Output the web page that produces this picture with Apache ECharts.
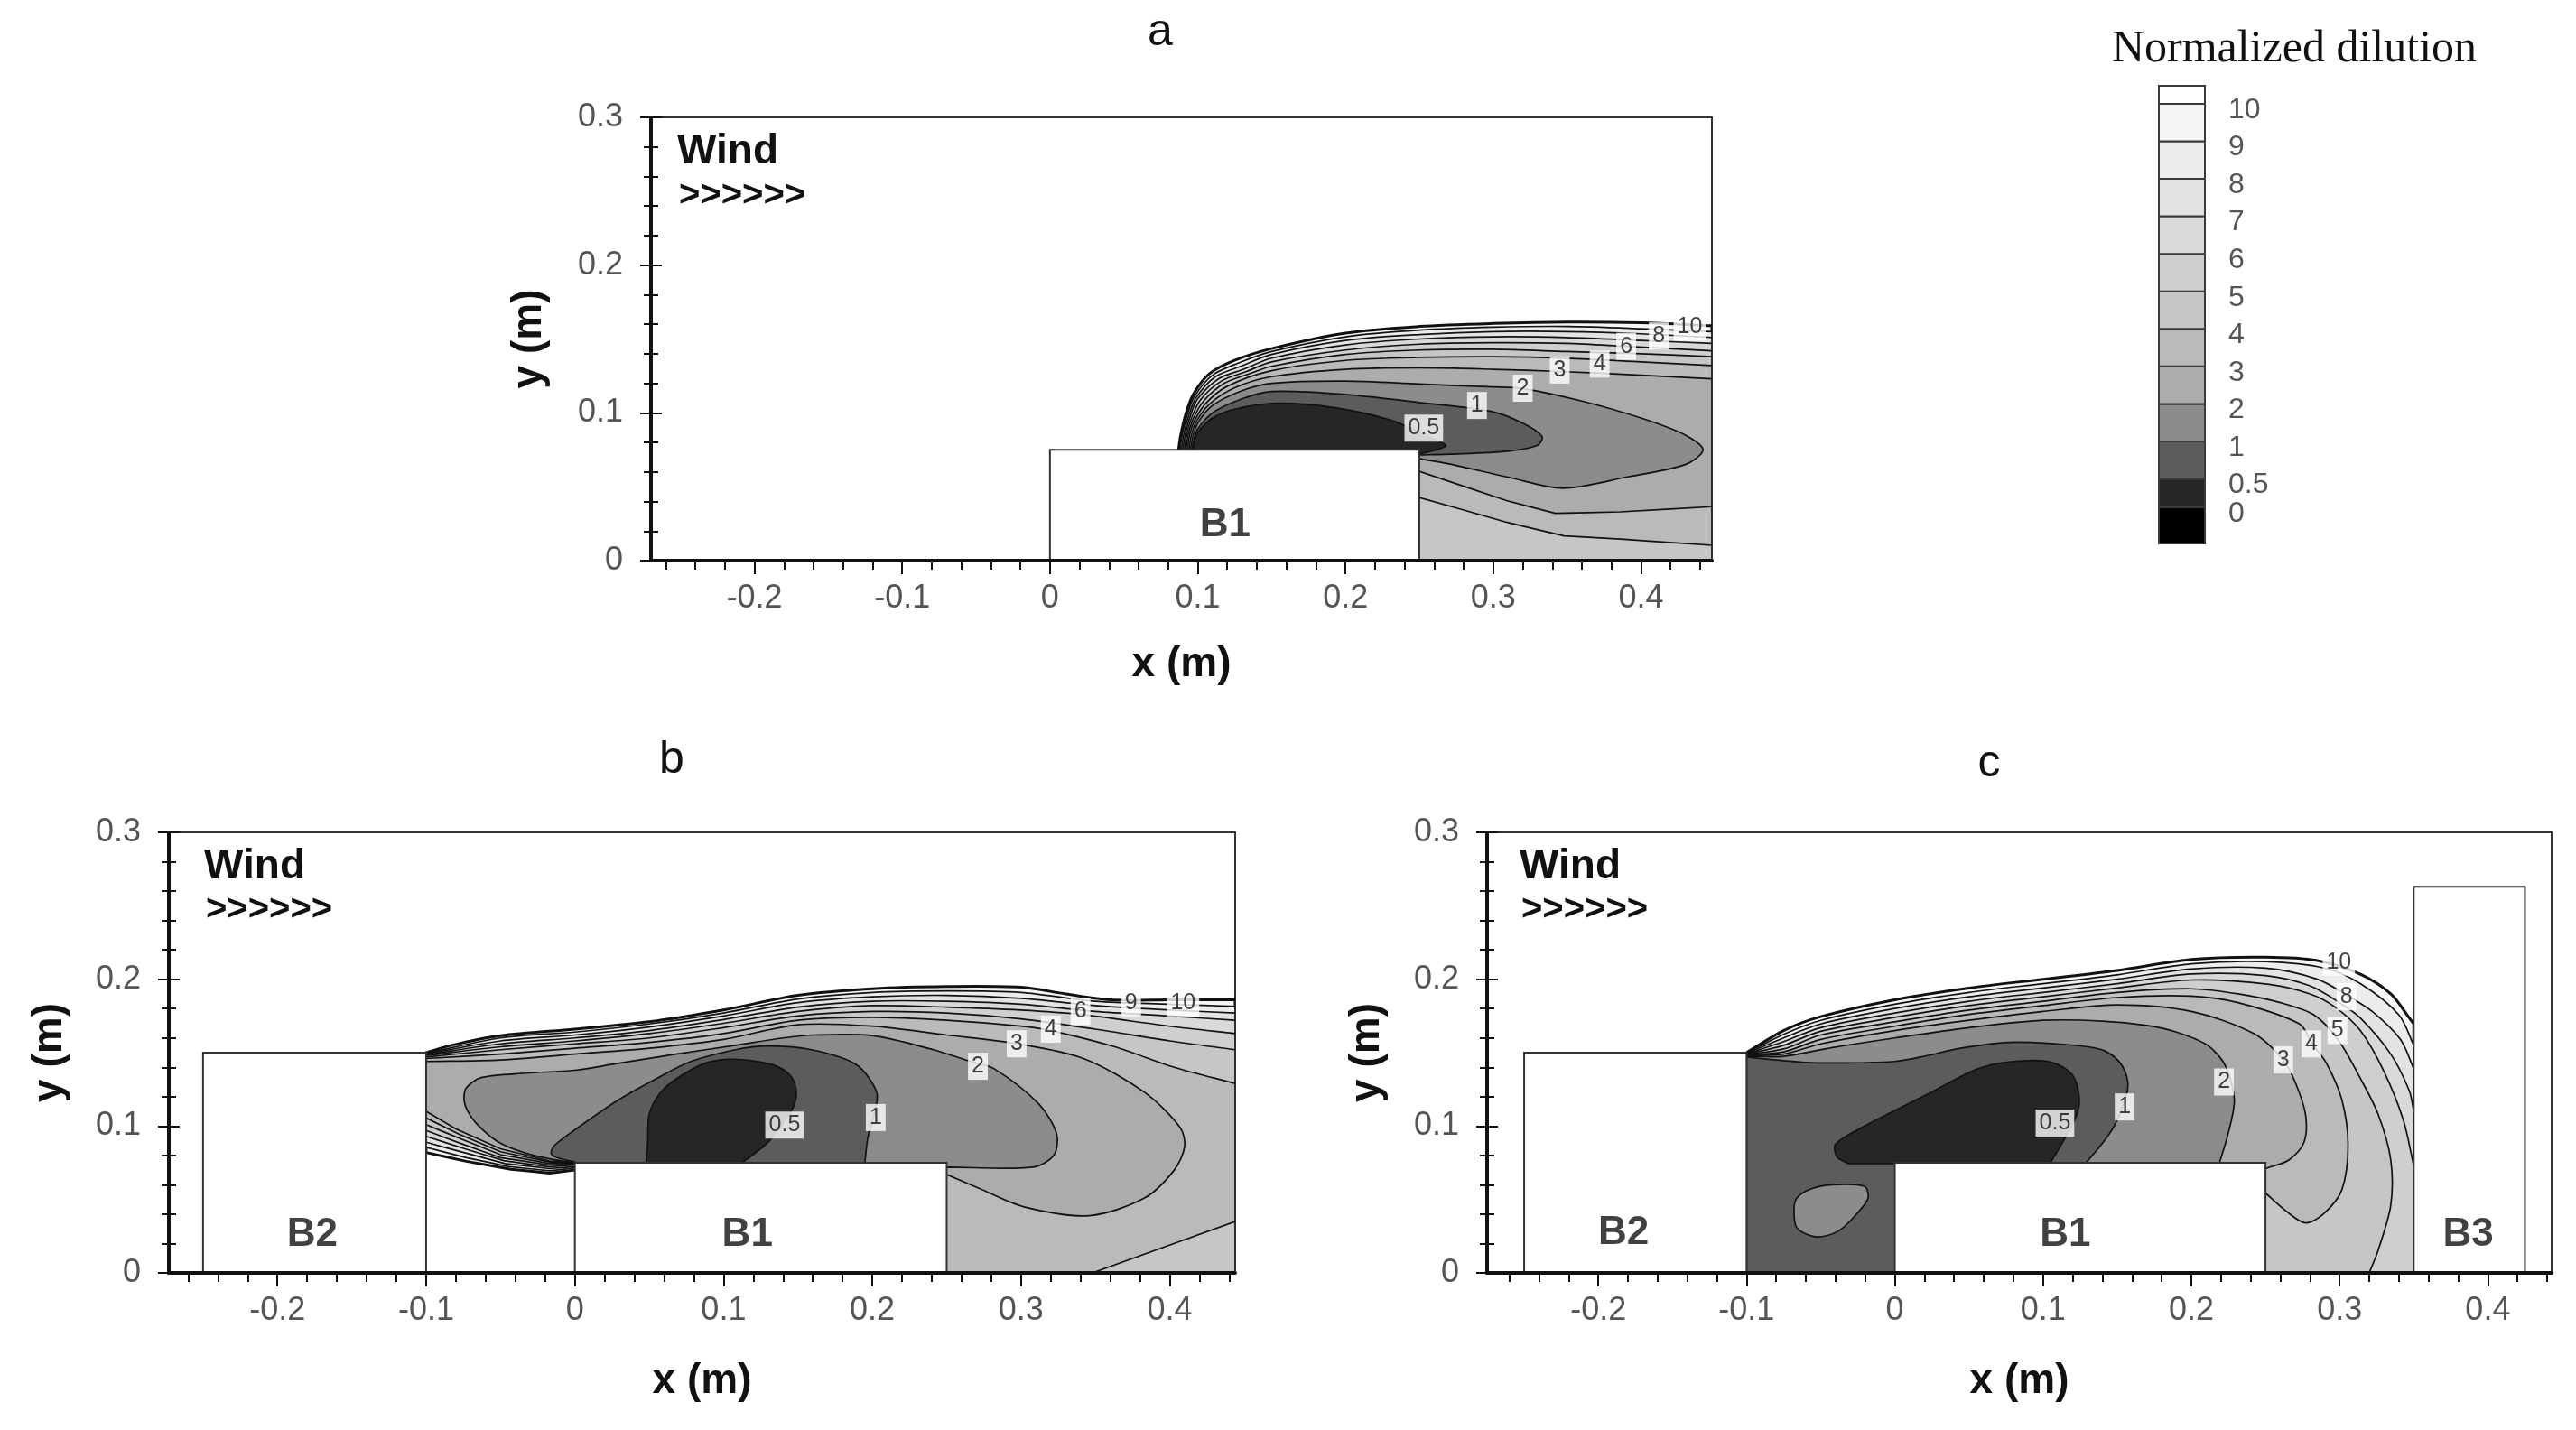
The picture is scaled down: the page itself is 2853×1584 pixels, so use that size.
<!DOCTYPE html>
<html lang="en">
<head>
<meta charset="UTF-8">
<title>Normalized dilution contours</title>
<script src="https://cdn.jsdelivr.net/npm/echarts@6/dist/echarts.min.js"></script>
<style>
    html, body, #main {
        height: 100%;
        padding: 0;
        margin: 0;
        background: #fff;
    }
</style>
</head>
<body>
<div id="main"></div>
<script>
    // contour levels and the grey of the band just below each level
    var levels = [0, 0.5, 1, 2, 3, 4, 5, 6, 7, 8, 9, 10];
    var bandColors = ['#000000', '#262626', '#5c5c5c', '#8c8c8c', '#acacac', '#bababa',
        '#c6c6c6', '#cfcfcf', '#d9d9d9', '#e3e3e3', '#ececec', '#f5f5f5', '#ffffff'];
    // where each level boundary sits on the colour bar
    var legendTicks = [0.24, 1, 2, 3, 4, 5, 6, 7, 8, 9, 10, 11];

    var xMajor = [-0.2, -0.1, 0, 0.1, 0.2, 0.3, 0.4];

    // [level, contour line (x, y in m), closing path along walls / ground]
    var contoursA = [
        [10, [[0.087,0.075],[0.0885,0.085],[0.092,0.0995],[0.097,0.1125],[0.108,0.1265],[0.125,0.1355],[0.15,0.1435],[0.2,0.154],[0.25,0.1585],[0.3,0.1605],[0.35,0.1615],[0.4,0.161],[0.448,0.159]], [[0.448,0],[0.1,0]]],
        [9, [[0.088,0.075],[0.0895,0.085],[0.093,0.099],[0.098,0.1115],[0.11,0.1255],[0.127,0.1335],[0.15,0.1415],[0.2,0.1515],[0.25,0.156],[0.3,0.158],[0.35,0.1585],[0.4,0.157],[0.448,0.155]], [[0.448,0],[0.1,0]]],
        [8, [[0.089,0.075],[0.0905,0.085],[0.094,0.0985],[0.099,0.1105],[0.112,0.1245],[0.129,0.1315],[0.15,0.1395],[0.2,0.149],[0.25,0.153],[0.3,0.155],[0.35,0.155],[0.4,0.1535],[0.448,0.151]], [[0.448,0],[0.1,0]]],
        [7, [[0.09,0.075],[0.0915,0.085],[0.095,0.098],[0.1,0.1095],[0.114,0.123],[0.131,0.1295],[0.15,0.137],[0.2,0.146],[0.25,0.15],[0.3,0.1515],[0.35,0.151],[0.4,0.149],[0.448,0.147]], [[0.448,0],[0.1,0]]],
        [6, [[0.091,0.075],[0.0925,0.085],[0.096,0.097],[0.102,0.109],[0.116,0.1215],[0.133,0.128],[0.15,0.1345],[0.2,0.1425],[0.25,0.1465],[0.3,0.1475],[0.35,0.147],[0.39,0.145],[0.448,0.142]], [[0.448,0],[0.1,0]]],
        [5, [[0.092,0.075],[0.0935,0.085],[0.097,0.096],[0.104,0.108],[0.118,0.12],[0.135,0.1265],[0.15,0.1315],[0.2,0.1395],[0.25,0.1425],[0.3,0.143],[0.35,0.1415],[0.4,0.14],[0.448,0.138]], [[0.448,0],[0.1,0]]],
        [4, [[0.093,0.075],[0.0945,0.085],[0.098,0.095],[0.106,0.107],[0.12,0.118],[0.15,0.1285],[0.2,0.1355],[0.25,0.1375],[0.3,0.138],[0.35,0.137],[0.4,0.1345],[0.448,0.132]],
            [[0.448,0.0104],[0.386,0.0146],[0.348,0.0167],[0.309,0.026],[0.25,0.0427],[0.15,0.02]]],
        [3, [[0.094,0.075],[0.0955,0.084],[0.099,0.094],[0.108,0.106],[0.125,0.117],[0.15,0.1245],[0.2,0.1295],[0.25,0.1305],[0.3,0.1295],[0.345,0.128],[0.4,0.1255],[0.448,0.123]],
            [[0.448,0.0365],[0.386,0.033],[0.342,0.032],[0.309,0.0406],[0.25,0.0604],[0.15,0.03]]],
        [2, [[0.095,0.075],[0.0965,0.083],[0.1,0.093],[0.11,0.105],[0.13,0.115],[0.15,0.12],[0.2,0.1215],[0.25,0.1195],[0.3,0.1175],[0.32,0.1165],[0.36,0.108],[0.4,0.0965],[0.43,0.085],[0.442,0.075],[0.43,0.065],[0.39,0.0565],[0.347,0.049],[0.31,0.0565],[0.27,0.0655],[0.25,0.069]], [[0.15,0.04]]],
        [1, [[0.096,0.075],[0.0975,0.082],[0.1,0.089],[0.11,0.1],[0.13,0.1095],[0.15,0.1145],[0.2,0.1125],[0.25,0.107],[0.2985,0.101],[0.32,0.093],[0.333,0.084],[0.33,0.078],[0.31,0.074],[0.27,0.072],[0.25,0.0715]], [[0.15,0.04]]],
        [0.5, [[0.097,0.075],[0.098,0.082],[0.101,0.088],[0.11,0.0965],[0.125,0.1025],[0.154,0.1065],[0.193,0.1035],[0.231,0.095],[0.255,0.0844],[0.268,0.078],[0.262,0.075]], [[0.2,0.06]]]
    ];

    var contoursB = [
        [10, [[-0.1,0.15],[-0.083,0.155],[-0.05,0.1615],[0,0.166],[0.05,0.171],[0.1,0.179],[0.15,0.189],[0.2,0.1935],[0.25,0.195],[0.3,0.1945],[0.33,0.19],[0.36,0.186],[0.4,0.186],[0.444,0.186]],
            [[0.444,0],[0.1,0],[0,0.07],[-0.017,0.068],[-0.043,0.0705],[-0.073,0.076],[-0.1,0.082]]],
        [9, [[-0.1,0.1495],[-0.05,0.16],[0,0.164],[0.05,0.1695],[0.1,0.177],[0.15,0.1865],[0.2,0.191],[0.25,0.192],[0.3,0.191],[0.35,0.185],[0.4,0.183],[0.444,0.1815]],
            [[0.444,0],[0.1,0],[0,0.0715],[-0.017,0.0695],[-0.045,0.0725],[-0.073,0.0785],[-0.1,0.0855]]],
        [8, [[-0.1,0.149],[-0.05,0.158],[0,0.162],[0.05,0.1675],[0.1,0.175],[0.15,0.184],[0.2,0.188],[0.25,0.189],[0.3,0.187],[0.35,0.182],[0.4,0.179],[0.444,0.177]],
            [[0.444,0],[0.1,0],[0,0.0725],[-0.017,0.071],[-0.047,0.0745],[-0.073,0.0815],[-0.1,0.089]]],
        [7, [[-0.1,0.1485],[-0.05,0.156],[0,0.16],[0.05,0.165],[0.1,0.1725],[0.15,0.181],[0.2,0.185],[0.25,0.185],[0.3,0.183],[0.35,0.178],[0.4,0.175],[0.444,0.172]],
            [[0.444,0],[0.1,0],[0,0.0735],[-0.017,0.0722],[-0.048,0.0765],[-0.074,0.0845],[-0.1,0.093]]],
        [6, [[-0.1,0.148],[-0.05,0.154],[0,0.158],[0.05,0.163],[0.1,0.17],[0.15,0.178],[0.2,0.182],[0.25,0.181],[0.3,0.179],[0.34,0.176],[0.4,0.168],[0.444,0.163]],
            [[0.444,0],[0.1,0],[0,0.074],[-0.017,0.0734],[-0.05,0.0785],[-0.075,0.0875],[-0.1,0.097]]],
        [5, [[-0.1,0.147],[-0.05,0.152],[0,0.156],[0.05,0.16],[0.1,0.167],[0.15,0.175],[0.2,0.178],[0.25,0.177],[0.3,0.173],[0.35,0.166],[0.4,0.158],[0.444,0.152]],
            [[0.444,0],[0.1,0],[0,0.0745],[-0.017,0.0745],[-0.05,0.0805],[-0.076,0.091],[-0.1,0.101]]],
        [4, [[-0.1,0.146],[-0.05,0.149],[0,0.153],[0.05,0.157],[0.1,0.163],[0.15,0.172],[0.2,0.174],[0.25,0.172],[0.3,0.168],[0.32,0.165],[0.363,0.154],[0.403,0.14],[0.444,0.129]],
            [[0.444,0.035],[0.348,0],[0.1,0],[0,0.075],[-0.017,0.0755],[-0.05,0.0825],[-0.078,0.0945],[-0.1,0.1055]]],
        [3, [[-0.1,0.144],[-0.05,0.145],[0,0.149],[0.05,0.153],[0.1,0.159],[0.15,0.169],[0.2,0.168],[0.25,0.162],[0.298,0.156],[0.342,0.146],[0.383,0.123],[0.407,0.099],[0.41,0.086],[0.403,0.07],[0.383,0.051],[0.346,0.039],[0.302,0.045],[0.272,0.0575],[0.25,0.067]],
            [[0.1,0.02],[0,0.075],[-0.017,0.0762],[-0.05,0.0845],[-0.08,0.098],[-0.1,0.11]]],
        [2, [[0,0.075],[-0.015,0.0772],[-0.033,0.0815],[-0.052,0.0895],[-0.066,0.1015],[-0.0725,0.111],[-0.0745,0.118],[-0.073,0.126],[-0.063,0.133],[-0.033,0.136],[0,0.138],[0.028,0.1425],[0.068,0.149],[0.108,0.155],[0.14,0.16],[0.161,0.162],[0.201,0.1615],[0.241,0.152],[0.266,0.144],[0.282,0.139],[0.312,0.115],[0.324,0.0945],[0.322,0.08],[0.308,0.072],[0.25,0.072]], [[0.1,0.03]]],
        [1, [[0,0.0755],[-0.012,0.0785],[-0.016,0.0815],[-0.0135,0.087],[-0.0006,0.097],[0.028,0.117],[0.058,0.134],[0.078,0.144],[0.108,0.152],[0.129,0.1545],[0.159,0.152],[0.189,0.142],[0.203,0.123],[0.201,0.107],[0.197,0.092],[0.195,0.075]], [[0.1,0.03]]],
        [0.5, [[0.048,0.075],[0.049,0.09],[0.05,0.108],[0.057,0.122],[0.068,0.132],[0.088,0.143],[0.104,0.1455],[0.119,0.1445],[0.135,0.141],[0.146,0.133],[0.149,0.1215],[0.146,0.111],[0.138,0.099],[0.129,0.088],[0.1125,0.075]], [[0.08,0.05]]]
    ];

    var contoursC = [
        [10, [[-0.1,0.15],[-0.075,0.165],[-0.05,0.1745],[0,0.186],[0.05,0.194],[0.1,0.2],[0.15,0.206],[0.2,0.2135],[0.25,0.215],[0.285,0.2127],[0.314,0.2034],[0.3345,0.19],[0.347,0.1736],[0.35,0.1695]], [[0.35,0],[-0.1,0]]],
        [9, [[-0.1,0.1497],[-0.075,0.1625],[-0.05,0.172],[0,0.183],[0.05,0.191],[0.1,0.197],[0.15,0.203],[0.2,0.2105],[0.25,0.212],[0.29,0.2075],[0.314,0.197],[0.34,0.1757],[0.35,0.155]], [[0.35,0],[-0.1,0]]],
        [8, [[-0.1,0.1494],[-0.075,0.16],[-0.05,0.1695],[0,0.18],[0.05,0.188],[0.1,0.194],[0.15,0.2],[0.2,0.207],[0.25,0.2075],[0.285,0.2],[0.305,0.189],[0.322,0.178],[0.341,0.159],[0.35,0.139]], [[0.35,0],[-0.1,0]]],
        [7, [[-0.1,0.1491],[-0.075,0.1575],[-0.05,0.167],[0,0.177],[0.05,0.185],[0.1,0.191],[0.15,0.197],[0.2,0.2035],[0.25,0.2025],[0.28,0.1955],[0.3,0.184],[0.314,0.1736],[0.3345,0.149],[0.347,0.124],[0.35,0.11]], [[0.35,0],[-0.1,0]]],
        [6, [[-0.1,0.1488],[-0.075,0.155],[-0.05,0.1645],[0,0.174],[0.05,0.182],[0.1,0.188],[0.15,0.194],[0.2,0.1995],[0.2525,0.1965],[0.28,0.19],[0.297,0.181],[0.314,0.165],[0.33,0.137],[0.343,0.104],[0.35,0.073]], [[0.35,0],[-0.1,0]]],
        [5, [[-0.1,0.1485],[-0.075,0.1525],[-0.05,0.162],[0,0.171],[0.05,0.179],[0.1,0.185],[0.15,0.191],[0.2,0.1935],[0.2315,0.19],[0.26,0.184],[0.283,0.1755],[0.2995,0.158],[0.314,0.1325],[0.326,0.108],[0.3345,0.077],[0.3345,0.046],[0.326,0.0154],[0.32,0]], [[-0.1,0]]],
        [4, [[-0.1,0.1482],[-0.075,0.1505],[-0.05,0.159],[0,0.168],[0.05,0.176],[0.1,0.182],[0.15,0.1875],[0.2,0.1885],[0.2315,0.184],[0.273,0.1695],[0.281,0.157],[0.291,0.143],[0.3015,0.118],[0.3057,0.087],[0.3015,0.0565],[0.289,0.04],[0.277,0.034],[0.264,0.042],[0.25,0.0544]], [[0.2,0.02],[0.02,0],[-0.1,0]]],
        [3, [[-0.1,0.1479],[-0.075,0.149],[-0.05,0.156],[0,0.165],[0.05,0.172],[0.1,0.178],[0.15,0.1825],[0.2,0.178],[0.242,0.163],[0.262,0.145],[0.27,0.13],[0.277,0.108],[0.276,0.089],[0.266,0.077],[0.25,0.071]], [[0.2,0.02],[0.02,0],[-0.1,0]]],
        [2, [[-0.1,0.1476],[-0.075,0.1475],[-0.042,0.1535],[0,0.16],[0.05,0.167],[0.1,0.172],[0.14,0.1715],[0.17,0.1685],[0.19,0.164],[0.211,0.155],[0.223,0.141],[0.229,0.118],[0.225,0.0955],[0.219,0.075]], [[0.2,0.02],[0.02,0],[-0.1,0]]],
        [1, [[-0.1,0.147],[-0.075,0.1445],[-0.053,0.143],[0,0.144],[0.022,0.148],[0.044,0.153],[0.077,0.157],[0.109,0.156],[0.13,0.154],[0.142,0.151],[0.152,0.143],[0.157,0.131],[0.156,0.12],[0.148,0.1],[0.139,0.087],[0.129,0.075]], [[0.1,0.03],[0.02,0],[-0.1,0]]],
        // closed pocket of higher dilution between B2 and B1
        [2, [[-0.068,0.0428],[-0.066,0.051],[-0.057,0.057],[-0.042,0.06],[-0.0206,0.059],[-0.018,0.051],[-0.025,0.041],[-0.038,0.0285],[-0.053,0.0245],[-0.066,0.0306]], null],
        [0.5, [[-0.0314,0.0744],[-0.039,0.079],[-0.04,0.0876],[-0.0206,0.0999],[0.0227,0.122],[0.055,0.1386],[0.077,0.1437],[0.105,0.1437],[0.12,0.1345],[0.1245,0.118],[0.122,0.106],[0.1136,0.0897],[0.105,0.075]], [[0.05,0.05],[0,0.0744]]]
    ];

    // contour labels [x, y, text]
    var labelsA = [[0.253,0.0896,'0.5'],[0.289,0.105,'1'],[0.32,0.1167,'2'],[0.345,0.129,'3'],[0.372,0.133,'4'],[0.39,0.145,'6'],[0.412,0.152,'8'],[0.433,0.158,'10']];
    var labelsB = [[0.141,0.1007,'0.5'],[0.2023,0.1058,'1'],[0.271,0.1407,'2'],[0.297,0.156,'3'],[0.32,0.166,'4'],[0.34,0.178,'6'],[0.374,0.184,'9'],[0.409,0.184,'10']];
    var labelsC = [[0.108,0.102,'0.5'],[0.155,0.113,'1'],[0.222,0.13,'2'],[0.262,0.145,'3'],[0.281,0.156,'4'],[0.2985,0.165,'5'],[0.3046,0.188,'8'],[0.2995,0.2116,'10']];

    // buildings [x0, x1, height]
    var buildingsA = [[0, 0.25, 0.075]];
    var buildingsB = [[-0.25, -0.1, 0.15], [0, 0.25, 0.075]];
    var buildingsC = [[-0.25, -0.1, 0.15], [0, 0.25, 0.075], [0.35, 0.425, 0.263]];
    var namesA = [[0.1185, 0.024, 'B1']];
    var namesB = [[-0.1766, 0.026, 'B2'], [0.116, 0.026, 'B1']];
    var namesC = [[-0.183, 0.027, 'B2'], [0.115, 0.026, 'B1'], [0.3867, 0.026, 'B3']];

    var panels = [
        {grid: {left: 721, top: 130, width: 1175, height: 491}, xMin: -0.27, xMax: 0.448, yGap: 112, xGap: 92},
        {grid: {left: 187, top: 922, width: 1181, height: 488}, xMin: -0.273, xMax: 0.444, yGap: 109, xGap: 97},
        {grid: {left: 1647, top: 922, width: 1179, height: 488}, xMin: -0.275, xMax: 0.443, yGap: 110, xGap: 97}
    ];

    var sansFont = '"Liberation Sans", Arial, sans-serif';

    function fillFor(lv) {
        return bandColors[levels.indexOf(lv)];
    }

    function minorTicks(min, max) {
        var out = [];
        for (var k = Math.ceil(min / 0.02); k <= Math.floor(max / 0.02); k++) {
            out.push(Math.round(k * 2) / 100);
        }
        return out;
    }

    function regionSeries(list, gi) {
        return {
            type: 'custom',
            xAxisIndex: gi * 2,
            yAxisIndex: gi * 2,
            clip: true,
            silent: true,
            z: 2,
            data: list.map(function (r, i) { return [r[1][0][0], r[1][0][1], i]; }),
            renderItem: function (params, api) {
                var r = list[params.dataIndex];
                var curve = r[1], close = r[2], pts = [];
                curve.forEach(function (p, i) {
                    var c = api.coord(p);
                    pts.push(c);
                    // doubled points keep corners sharp when smoothing
                    if (close && (i === 0 || i === curve.length - 1)) pts.push(c.slice());
                });
                (close || []).forEach(function (p) {
                    var c = api.coord(p);
                    pts.push(c, c.slice());
                });
                return {
                    type: 'polygon',
                    shape: {points: pts, smooth: 0.3},
                    style: {fill: fillFor(r[0]), stroke: '#111', lineWidth: r[0] === 10 ? 3 : 1.7}
                };
            }
        };
    }

    function buildingSeries(list, gi) {
        return {
            type: 'custom',
            xAxisIndex: gi * 2,
            yAxisIndex: gi * 2,
            silent: true,
            z: 3,
            data: list,
            renderItem: function (params, api) {
                var p0 = api.coord([api.value(0), api.value(2)]);
                var p1 = api.coord([api.value(1), 0]);
                return {
                    type: 'rect',
                    shape: {x: p0[0], y: p0[1], width: p1[0] - p0[0], height: p1[1] - p0[1]},
                    style: {fill: '#fff', stroke: '#333', lineWidth: 2}
                };
            }
        };
    }

    function textSeries(list, gi, style) {
        return {
            type: 'scatter',
            xAxisIndex: gi * 2,
            yAxisIndex: gi * 2,
            silent: true,
            z: 4,
            symbolSize: 0,
            data: list,
            label: Object.assign({
                show: true,
                position: 'inside',
                formatter: function (p) { return p.value[2]; }
            }, style)
        };
    }

    var contourLabelStyle = {
        fontSize: 25, fontFamily: sansFont, color: '#111',
        backgroundColor: '#fff', padding: [3, 4, 2, 4]
    };
    var buildingLabelStyle = {fontSize: 44, fontWeight: 'bold', fontFamily: sansFont, color: '#111'};

    var grids = [], xAxes = [], yAxes = [], series = [];
    panels.forEach(function (p, gi) {
        grids.push(Object.assign({show: true, borderColor: '#333', borderWidth: 2}, p.grid));
        xAxes.push({
            type: 'value', gridIndex: gi, min: p.xMin, max: p.xMax, position: 'bottom', z: 10,
            name: 'x (m)', nameLocation: 'middle', nameGap: p.xGap,
            nameTextStyle: {fontSize: 46, fontWeight: 'bold', fontFamily: sansFont, color: '#111'},
            axisLine: {show: true, onZero: false, lineStyle: {color: '#111', width: 4}},
            axisTick: {show: true, customValues: xMajor, length: 15, lineStyle: {color: '#111', width: 2}},
            axisLabel: {customValues: xMajor, margin: 24, fontSize: 36, fontFamily: sansFont, color: '#555'},
            splitLine: {show: false}
        });
        xAxes.push({
            type: 'value', gridIndex: gi, min: p.xMin, max: p.xMax, position: 'bottom', z: 10,
            axisLine: {show: false, onZero: false},
            axisTick: {show: true, customValues: minorTicks(p.xMin, p.xMax), length: 10, lineStyle: {color: '#111', width: 2}},
            axisLabel: {show: false},
            splitLine: {show: false}
        });
        yAxes.push({
            type: 'value', gridIndex: gi, min: 0, max: 0.3, interval: 0.1, position: 'left', z: 10,
            name: 'y (m)', nameLocation: 'middle', nameGap: p.yGap,
            nameTextStyle: {fontSize: 46, fontWeight: 'bold', fontFamily: sansFont, color: '#111'},
            axisLine: {show: true, onZero: false, lineStyle: {color: '#111', width: 4}},
            axisTick: {show: true, length: 12, lineStyle: {color: '#111', width: 2}},
            minorTick: {show: true, splitNumber: 5, length: 8, lineStyle: {color: '#111', width: 2}},
            axisLabel: {margin: 31, fontSize: 36, fontFamily: sansFont, color: '#555'},
            splitLine: {show: false}
        });
        yAxes.push({
            type: 'value', gridIndex: gi, min: 0, max: 0.3, interval: 0.1, position: 'left', z: 10,
            axisLine: {show: false, onZero: false},
            axisTick: {show: true, inside: true, length: 12, lineStyle: {color: '#111', width: 2}},
            minorTick: {show: true, splitNumber: 5, length: 8, lineStyle: {color: '#111', width: 2}},
            axisLabel: {show: false},
            splitLine: {show: false}
        });
    });

    [contoursA, contoursB, contoursC].forEach(function (c, gi) { series.push(regionSeries(c, gi)); });
    [buildingsA, buildingsB, buildingsC].forEach(function (b, gi) { series.push(buildingSeries(b, gi)); });
    [labelsA, labelsB, labelsC].forEach(function (l, gi) { series.push(textSeries(l, gi, contourLabelStyle)); });
    [namesA, namesB, namesC].forEach(function (n, gi) { series.push(textSeries(n, gi, buildingLabelStyle)); });

    // colour bar: one box per band, each labelled at its lower boundary
    grids.push({left: 2391, top: 95, width: 51, height: 507});
    xAxes.push({type: 'value', gridIndex: 3, min: 0, max: 1, show: false});
    yAxes.push({type: 'value', gridIndex: 3, min: -0.72, max: 11.48, show: false});
    series.push({
        type: 'custom', xAxisIndex: 6, yAxisIndex: 6, silent: true,
        data: bandColors.map(function (c, k) { return [0, k]; }),
        renderItem: function (params, api) {
            var k = params.dataIndex;
            var lo = k === 0 ? -0.72 : legendTicks[k - 1];
            var hi = k === bandColors.length - 1 ? 11.48 : legendTicks[k];
            var a = api.coord([0, hi]), b = api.coord([1, lo]);
            var children = [{
                type: 'rect',
                shape: {x: a[0], y: a[1], width: b[0] - a[0], height: b[1] - a[1]},
                style: {fill: bandColors[k], stroke: '#3a3a3a', lineWidth: 2}
            }];
            if (k > 0) {
                children.push({
                    type: 'text', x: b[0] + 26, y: b[1] + 7,
                    style: {
                        text: String(levels[k - 1]), font: '32px ' + sansFont, fill: '#555',
                        align: 'left', verticalAlign: 'middle', textAlign: 'left', textVerticalAlign: 'middle'
                    }
                });
            }
            return {type: 'group', children: children};
        }
    });

    function label(text, x, y, font, align) {
        return {
            type: 'text', x: x, y: y, silent: true,
            style: {text: text, font: font, fill: '#111', align: align || 'center', verticalAlign: 'middle',
                textAlign: align || 'center', textVerticalAlign: 'middle'}
        };
    }

    var windFont = 'bold 46px ' + sansFont;
    var arrowFont = 'bold 40px ' + sansFont;
    var graphics = [
        label('a', 1285, 36, '50px ' + sansFont),
        label('b', 744, 842, '50px ' + sansFont),
        label('c', 2203, 846, '50px ' + sansFont),
        label('Normalized dilution', 2541, 55, '50px "Liberation Serif", "Times New Roman", serif'),
        label('Wind', 750, 168, windFont, 'left'),
        label('>>>>>>', 752, 217, arrowFont, 'left'),
        label('Wind', 226, 960, windFont, 'left'),
        label('>>>>>>', 228, 1008, arrowFont, 'left'),
        label('Wind', 1683, 960, windFont, 'left'),
        label('>>>>>>', 1685, 1008, arrowFont, 'left')
    ];

    var chart = echarts.init(document.getElementById('main'));
    chart.setOption({
        backgroundColor: '#fff',
        animation: false,
        grid: grids,
        xAxis: xAxes,
        yAxis: yAxes,
        series: series,
        graphic: graphics
    });
</script>
</body>
</html>
